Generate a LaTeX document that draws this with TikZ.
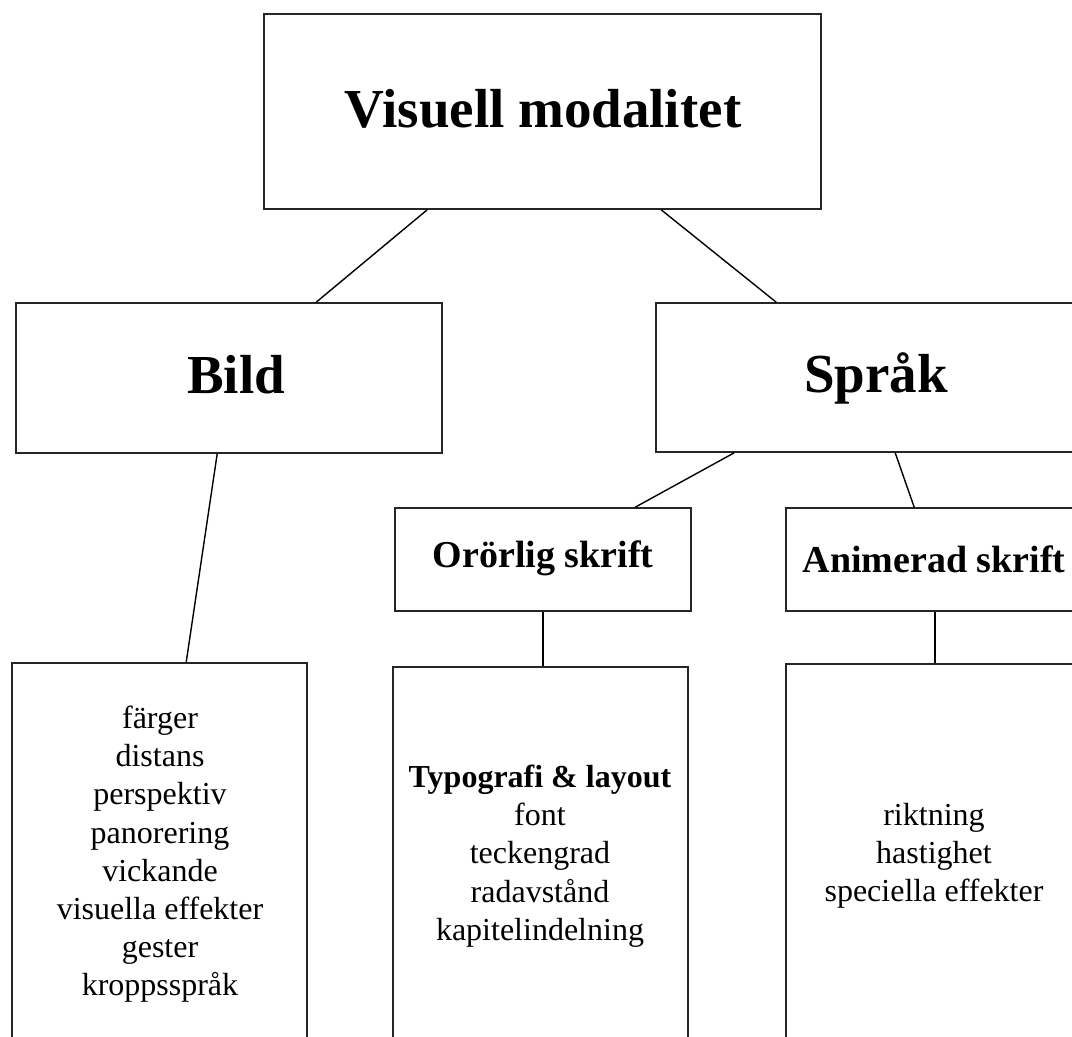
\documentclass[tikz,border=0pt]{standalone}
\usepackage{fontspec}
\setmainfont{Liberation Serif}
\usetikzlibrary{calc}
\tikzset{
  box/.style={draw=black!85, line width=1.6pt, inner sep=0pt, fill=white},
  conn/.style={draw=black, line width=1.4pt},
  bigtext/.style={font=\fontsize{55}{60}\selectfont\bfseries, inner sep=0pt},
  midtext/.style={font=\fontsize{38}{44}\selectfont\bfseries, inner sep=0pt},
  listtext/.style={font=\fontsize{32}{38.1}\selectfont, align=center, inner sep=0pt, anchor=north}
}
\begin{document}
\begin{tikzpicture}[x=1pt,y=-1pt]
\useasboundingbox (0,0) rectangle (1072,1037);
\clip (0,0) rectangle (1072,1037);
\fill[white] (0,0) rectangle (1072,1037);

% boxes
\node[box, minimum width=557pt, minimum height=195pt] (top) at (542.5,111.5) {};
\node[box, minimum width=426pt, minimum height=150pt] (bild) at (229,378) {};
\node[box, minimum width=440pt, minimum height=149pt] (sprak) at (876,377.5) {};
\node[box, minimum width=296pt, minimum height=103pt] (oror) at (543,559.5) {};
\node[box, minimum width=294pt, minimum height=103pt] (anim) at (933,559.5) {};
\node[box, minimum width=295pt, minimum height=500pt] (lb) at (159.5,913) {};
\node[box, minimum width=295pt, minimum height=500pt] (mb) at (540.5,917) {};
\node[box, minimum width=294pt, minimum height=500pt] (rb) at (933,914) {};

% titles
\node[bigtext] (ttop) at (543,109) {Visuell modalitet};
\node[bigtext] (tbild) at (236,375) {Bild};
\node[bigtext] (tsprak) at (876,378) {Språk};
\node[midtext] (toror) at (543,558) {Orörlig skrift};
\node[midtext] (tanim) at (934,559) {Animerad skrift};

% lists
\node[listtext] (llist) at (160,706) {färger\\distans\\perspektiv\\panorering\\vickande\\visuella effekter\\gester\\kroppsspråk};
\node[listtext] (mlist) at (540,765) {\textbf{Typografi \& layout}\\font\\teckengrad\\radavstånd\\kapitelindelning};
\node[listtext] (rlist) at (934,803) {riktning\\hastighet\\speciella effekter};

% connectors
\draw[conn] ([xshift=164pt]top.south west) -- ([xshift=301pt]bild.north west);
\draw[conn] ([xshift=398pt]top.south west) -- ([xshift=121pt]sprak.north west);
\draw[conn] ([xshift=202pt]bild.south west) -- ([xshift=175pt]lb.north west);
\draw[conn] ([xshift=79pt]sprak.south west) -- ([xshift=241pt]oror.north west);
\draw[conn] ([xshift=240pt]sprak.south west) -- ([xshift=129pt]anim.north west);
\draw[conn] (oror.south) -- (oror.south |- mb.north);
\draw[conn] ([xshift=2pt]anim.south) -- ([xshift=2pt]anim.south |- rb.north);
\end{tikzpicture}
\end{document}
